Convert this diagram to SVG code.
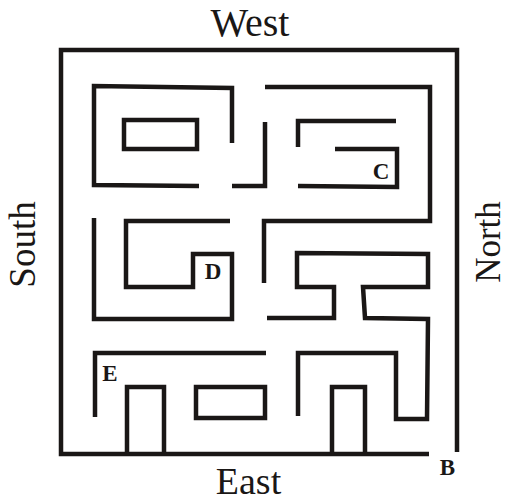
<svg xmlns="http://www.w3.org/2000/svg" width="509" height="503" viewBox="0 0 509 503">
<style>
.w{fill:none;stroke:#1a1716;stroke-width:4.5;stroke-linejoin:miter;stroke-linecap:butt}
.lbl{font-family:"Liberation Serif","Times New Roman",serif;fill:#1a1716}
.pt{font-family:"Liberation Serif","Times New Roman",serif;font-weight:bold;font-size:23px;fill:#1a1716}
</style>
<rect width="509" height="503" fill="#fff"/>
<g id="walls">
<path id="frame" class="w" d="M429,454 L61,454 L61,50 L457,50 L457,452"/>
<path class="w" d="M199,186 L94,185 L94,86 L232,88 L232,143"/>
<rect class="w" x="124" y="120" width="73" height="29"/>
<path class="w" d="M232,186 L265,186 L265,122"/>
<path class="w" d="M265,87 L430,87 L430,221 L264,221 L264,283"/>
<path class="w" d="M396,121 L298,121 L298,147"/>
<path class="w" d="M335,149 L397,149 L397,187 L298,186"/>
<path class="w" d="M94,218 L94,319 L232,319 L232,254 L193,254 L193,287 L126,287 L126,221 L230,221"/>
<path class="w" d="M267,318 L334,318 L334,287 L297,287 L297,253 L428,254 L428,287 L363,287 L365,318 L428,319 L427,419 L396,419 L396,353 L298,353 L298,416"/>
<path class="w" d="M95,417 L95,353 L266,353"/>
<path class="w" d="M127,454 L127,387 L164,387 L164,454"/>
<rect class="w" x="196" y="387" width="69" height="31"/>
<path class="w" d="M332,454 L332,387 L365,387 L365,454"/>
</g>
<g id="labels">
<text class="lbl" x="250" y="36" font-size="40" text-anchor="middle">West</text>
<text class="lbl" x="248.5" y="494" font-size="38" text-anchor="middle">East</text>
<text class="lbl" font-size="37" text-anchor="middle" transform="translate(35,244.5) rotate(-90)">South</text>
<text class="lbl" font-size="35" text-anchor="middle" transform="translate(500,242) rotate(-90)">North</text>
<text class="pt" x="381" y="179" text-anchor="middle">C</text>
<text class="pt" x="213" y="279" text-anchor="middle">D</text>
<text class="pt" x="110" y="381" text-anchor="middle">E</text>
<text class="pt" x="447.5" y="475" text-anchor="middle">B</text>
</g>
</svg>
